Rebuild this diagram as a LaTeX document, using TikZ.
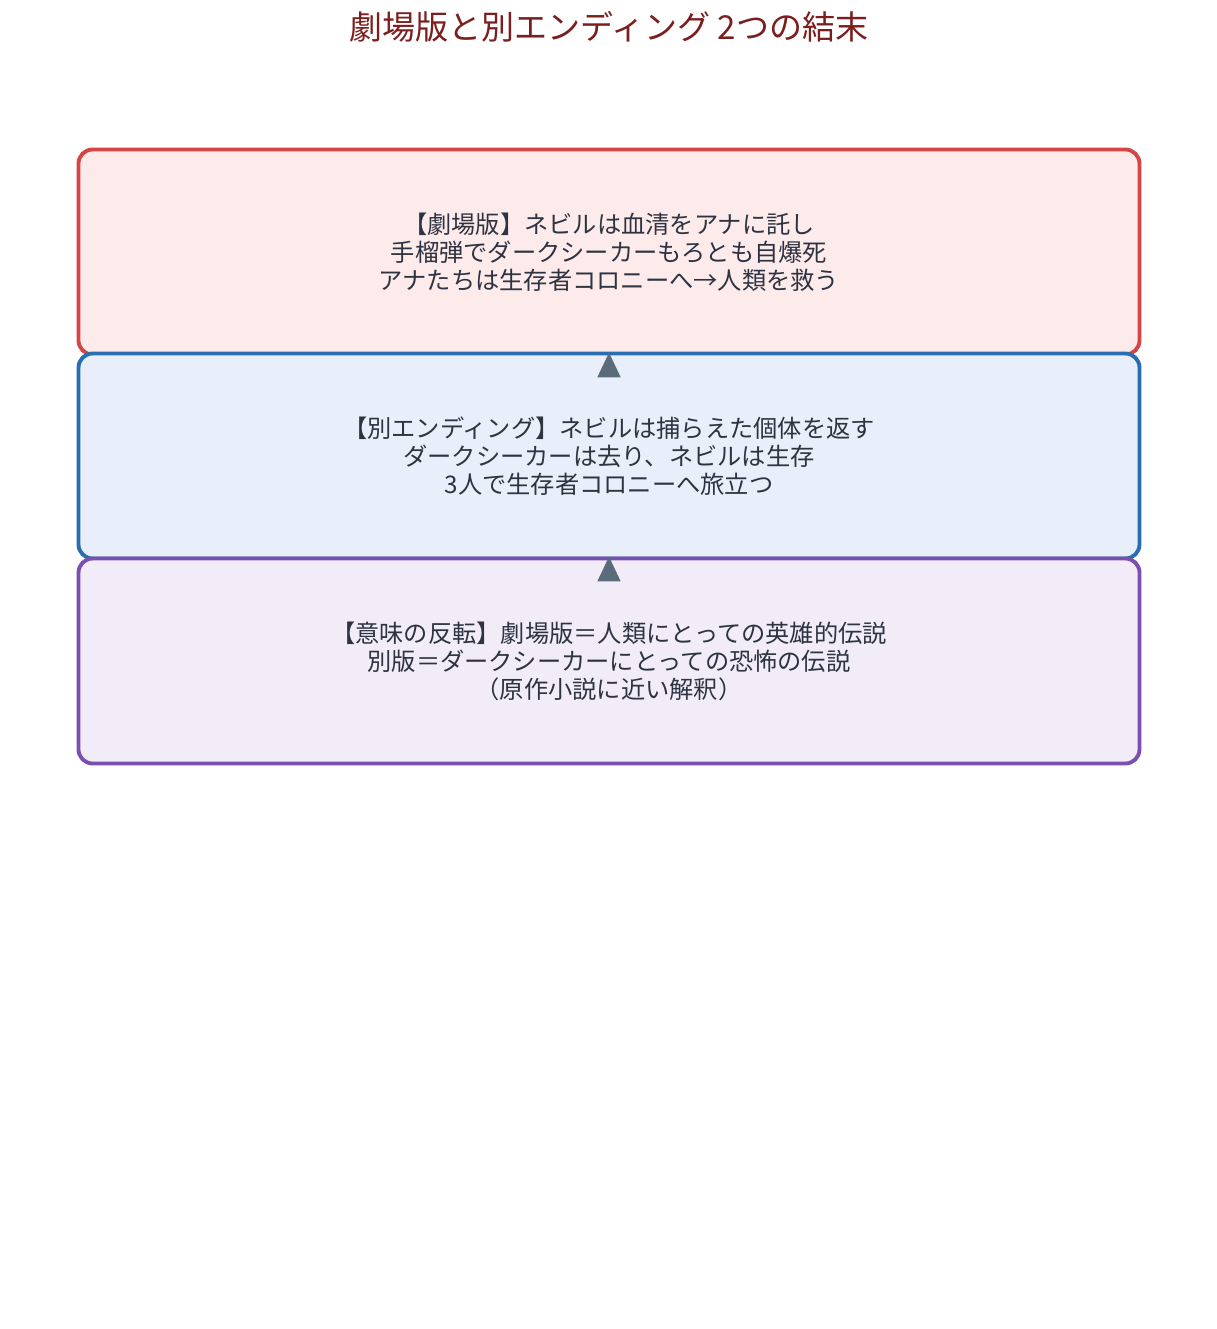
\documentclass[tikz,border=0pt]{standalone}
\usepackage{fontspec}
\setmainfont{Noto Sans CJK JP}
\usetikzlibrary{arrows.meta}

\definecolor{titlered}{HTML}{7B1E1E}
\definecolor{txt}{HTML}{2D3340}
\definecolor{redline}{HTML}{D64545}
\definecolor{redfill}{HTML}{FDEBEB}
\definecolor{blueline}{HTML}{2A6DB0}
\definecolor{bluefill}{HTML}{E8EFFA}
\definecolor{purpline}{HTML}{7B4FB0}
\definecolor{purpfill}{HTML}{F2ECF9}
\definecolor{arrowgray}{HTML}{5A6B7A}

\tikzset{
  box/.style={draw, line width=2.2pt, rounded corners=8pt, minimum width=1061*0.02cm,
    minimum height=205*0.02cm, align=center, text=txt, font=\fontsize{13.8}{15.9}\selectfont},
  arr/.style={-{Triangle[length=0.5cm,width=0.45cm]}, draw=arrowgray, line width=2pt}
}

\begin{document}
\begin{tikzpicture}[x=0.02cm,y=-0.02cm]
        \useasboundingbox (0,0) rectangle (1217,1329);

        % Title
        \node[text=titlered, font=\fontsize{18.8}{22}\selectfont] (title) at (609,27) {劇場版と別エンディング 2つの結末};

        % The three boxes
        \node[box, draw=redline, fill=redfill] (theatre) at (609,252)
          {【劇場版】ネビルは血清をアナに託し\\手榴弾でダークシーカーもろとも自爆死\\アナたちは生存者コロニーへ→人類を救う};
        \node[box, draw=blueline, fill=bluefill] (alternate) at (609,456)
          {【別エンディング】ネビルは捕らえた個体を返す\\ダークシーカーは去り、ネビルは生存\\3人で生存者コロニーへ旅立つ};
        \node[box, draw=purpline, fill=purpfill] (meaning) at (609,661)
          {【意味の反転】劇場版＝人類にとっての英雄的伝説\\別版＝ダークシーカーにとっての恐怖の伝説\\（原作小説に近い解釈）};

        % Arrows
        \draw[arr] ([yshift=-0.45cm]alternate.north) -- ([yshift=0.08cm]theatre.south);
        \draw[arr] ([yshift=-0.45cm]meaning.north) -- ([yshift=0.08cm]alternate.south);

\end{tikzpicture}
\end{document}
